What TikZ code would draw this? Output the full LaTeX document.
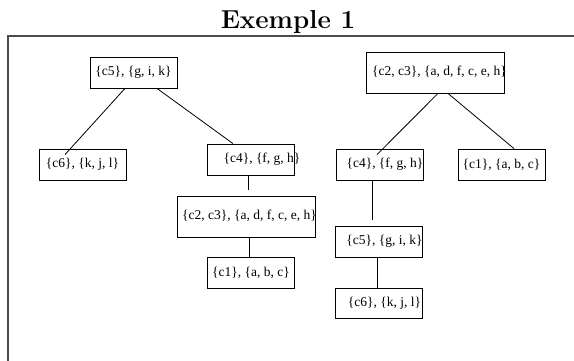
\documentclass[tikz,border=0pt]{standalone}
\usepackage{fontspec}
\newfontfamily\timesfont{Liberation Serif}
% text pushed right of the box centre
\newcommand{\offtext}[2]{\makebox[0pt]{\hspace*{#1}\hspace*{#1}#2}}

\begin{document}
\begin{tikzpicture}[
    x = 1pt, y = 1pt,
    node distance = 90pt,
    minimum height = 31pt,
    minimum width = 87pt,
    box/.style = {draw, rectangle, inner sep = 0pt, line width = 0.8pt, font = \timesfont\fontsize{13.5}{16}\selectfont},
    wide/.style = {minimum width = 138pt, minimum height = 41pt}
]
\useasboundingbox (0,0) rectangle (574,-361);
\draw[line width = 1.2pt, black!70] (8,-361) -- (8,-36) -- (574,-36);
\node (title) at (288,-28.5) [anchor = base, font = \fontsize{26}{30}\selectfont\bfseries] {Exemple 1};
% left tree
\node[box] (c5l) at (133.5,-72.5) {\{c5\}, \{g, i, k\}};
\node[box] (c6l) [below of = c5l, xshift = -51pt, yshift = -2pt] {\{c6\}, \{k, j, l\}};
\node[box] (c4l) [below of = c5l, xshift = 117.5pt, yshift = 3pt] {\offtext{11pt}{\{c4\}, \{f, g, h\}}};
\node[box, wide] (c23l) [below of = c4l, xshift = -4.5pt, yshift = 33pt] {\offtext{3pt}{\raisebox{3pt}{\{c2, c3\}, \{a, d, f, c, e, h\}}}};
\node[box] (c1l) [below of = c23l, xshift = 4.5pt, yshift = 34pt] {\{c1\}, \{a, b, c\}};
% right tree
\node[box, wide] (c23r) at (435,-72.5) {\offtext{4.5pt}{\raisebox{3pt}{\{c2, c3\}, \{a, d, f, c, e, h\}}}};
\node[box] (c4r) [below of = c23r, xshift = -55.5pt, yshift = -2pt] {\offtext{5.5pt}{\{c4\}, \{f, g, h\}}};
\node[box] (c1r) [below of = c23r, xshift = 66.5pt, yshift = -2pt] {\{c1\}, \{a, b, c\}};
\node[box] (c5r) [below of = c4r, xshift = -0.5pt, yshift = 13pt] {\offtext{5.5pt}{\{c5\}, \{g, i, k\}}};
\node[box, minimum height = 30pt] (c6r) [below of = c5r, yshift = 28.5pt] {\offtext{5.5pt}{\{c6\}, \{k, j, l\}}};
% lines
\path[line width = 0.8pt]
([xshift = -8.5pt]c5l.south) edge ([xshift = -17.5pt, yshift = -6pt]c6l.north)
([xshift = 23.5pt]c5l.south) edge ([xshift = -18pt]c4l.north)
([xshift = -3pt]c4l.south) edge ([xshift = 1.5pt, yshift = 6pt]c23l.north)
([xshift = 2.5pt]c23l.south) edge ([xshift = -2pt]c1l.north)
([xshift = 3pt]c23r.south) edge ([xshift = -2.5pt, yshift = -6pt]c4r.north)
([xshift = 13pt]c23r.south) edge ([xshift = 12.5pt]c1r.north)
([xshift = -7.5pt]c4r.south) edge ([xshift = -7pt, yshift = 6pt]c5r.north)
([xshift = -2pt]c5r.south) edge ([xshift = -2pt]c6r.north);

\end{tikzpicture}
\end{document}
